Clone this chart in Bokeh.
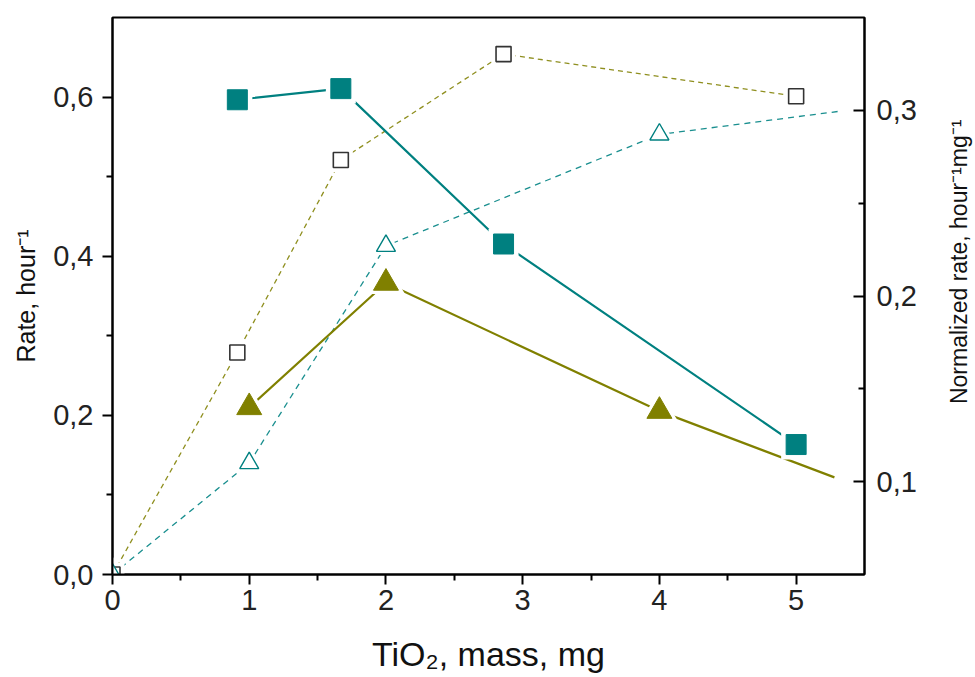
import math
from bokeh.plotting import figure
from bokeh.layouts import row
from bokeh.models import Range1d, LinearAxis, FixedTicker, CustomJSTickFormatter, Label
from bokeh.embed import file_html
from bokeh.resources import INLINE

# ---- data ----
# Rate, hour^-1 (left axis), open symbols, dashed lines
open_sq_mass = [0.0, 0.913, 1.67, 2.86, 5.0]
open_sq_rate = [0.0, 0.279, 0.521, 0.654, 0.601]
open_tri_mass = [0.0, 1.0, 2.0, 4.0]
open_tri_rate = [0.0, 0.14, 0.413, 0.553]
open_tri_tail_mass = [5.31]
open_tri_tail_rate = [0.582]
# Normalized rate, hour^-1 mg^-1 (right axis), filled symbols, solid lines
filled_sq_mass = [0.913, 1.67, 2.86, 5.0]
filled_sq_norm = [0.3057, 0.3117, 0.228, 0.12]
filled_tri_mass = [1.0, 2.0, 4.0]
filled_tri_norm = [0.14, 0.207, 0.138]
filled_tri_tail_mass = [5.28]
filled_tri_tail_norm = [0.1023]

x_ticks = [0, 1, 2, 3, 4, 5]
x_minor = [0.5, 1.5, 2.5, 3.5, 4.5]
left_ticks = [0.0, 0.2, 0.4, 0.6]
left_minor = [0.1, 0.3, 0.5]
right_ticks = [0.1, 0.2, 0.3]
right_minor = [0.15, 0.25]

x_title = "TiO₂, mass, mg"
left_title = "Rate, hour⁻¹"
right_title = "Normalized rate, hour⁻¹mg⁻¹"

TEAL = "#008080"
OLIVE = "#808000"
FONT = "Liberation Sans"

p = figure(width=935, height=677, x_range=Range1d(0, 5.5), y_range=Range1d(0, 0.7),
           output_backend="svg", toolbar_location=None,
           min_border_left=112, min_border_right=71, min_border_top=17, min_border_bottom=103)
p.extra_y_ranges = {"norm": Range1d(0.05, 0.35)}
p.xgrid.visible = False
p.ygrid.visible = False
p.outline_line_color = "black"
p.outline_line_width = 2
p.outline_line_alpha = 1.0
p.background_fill_color = "white"
p.border_fill_color = "white"

right_axis = LinearAxis(y_range_name="norm")
p.add_layout(right_axis, "right")

fmt = CustomJSTickFormatter(code="return tick.toFixed(1).replace('.', ',');")

def style(ax):
    ax.axis_line_color = "black"
    ax.axis_line_width = 2
    ax.major_tick_line_color = "black"
    ax.major_tick_line_width = 2
    ax.minor_tick_line_color = "black"
    ax.minor_tick_line_width = 2
    ax.major_label_text_font = FONT
    ax.major_label_text_font_size = "29px"
    ax.major_label_text_color = "#222222"
    ax.axis_label_text_font = FONT
    ax.axis_label_text_font_style = "normal"
    ax.axis_label_text_color = "#111111"

xa = p.xaxis[0]
style(xa)
xa.ticker = FixedTicker(ticks=x_ticks, minor_ticks=x_minor)
xa.major_tick_out = 10
xa.major_tick_in = 0
xa.minor_tick_out = 6
xa.minor_tick_in = 0
xa.major_label_standoff = 5
xa.axis_label = x_title
xa.axis_label_text_font_size = "34px"
xa.axis_label_standoff = 22

ya = p.yaxis[0]
style(ya)
ya.ticker = FixedTicker(ticks=left_ticks, minor_ticks=left_minor)
ya.formatter = fmt
ya.major_tick_out = 10
ya.major_tick_in = 0
ya.minor_tick_out = 6
ya.minor_tick_in = 0
ya.major_label_standoff = 9
ya.axis_label = left_title
ya.axis_label_text_font_size = "25px"
ya.axis_label_standoff = 10

style(right_axis)
right_axis.ticker = FixedTicker(ticks=right_ticks, minor_ticks=right_minor)
right_axis.formatter = fmt
right_axis.major_tick_out = 0
right_axis.major_tick_in = 11
right_axis.minor_tick_out = 0
right_axis.minor_tick_in = 6
right_axis.major_label_standoff = 12

# ---- lines ----
p.line(open_sq_mass, open_sq_rate, line_color="#8f8f1f", line_width=1.3, line_dash="5 4")
p.line(open_tri_mass + open_tri_tail_mass, open_tri_rate + open_tri_tail_rate,
       line_color="#1a8f8f", line_width=1.3, line_dash="6 5")
p.line(filled_sq_mass, filled_sq_norm, line_color=TEAL, line_width=2.2, y_range_name="norm")
p.line(filled_tri_mass + filled_tri_tail_mass, filled_tri_norm + filled_tri_tail_norm,
       line_color=OLIVE, line_width=2.2, y_range_name="norm")

# ---- white halos (gaps around markers) ----
p.scatter(open_sq_mass, open_sq_rate, marker="square", size=24, fill_color="white", line_color=None)
p.scatter(open_tri_mass, open_tri_rate, marker="triangle", size=32, fill_color="white", line_color=None)
p.scatter(filled_sq_mass, filled_sq_norm, marker="square", size=30, fill_color="white", line_color=None,
          y_range_name="norm")
p.scatter(filled_tri_mass, filled_tri_norm, marker="triangle", size=38, fill_color="white", line_color=None,
          y_range_name="norm")

# ---- markers ----
p.scatter(open_sq_mass, open_sq_rate, marker="square", size=15, fill_color="white",
          line_color="#333333", line_width=1.6)
p.scatter(open_tri_mass, open_tri_rate, marker="triangle", size=19, fill_color="white",
          line_color=TEAL, line_width=1.4)
p.scatter(filled_sq_mass, filled_sq_norm, marker="square", size=20, fill_color=TEAL,
          line_color=TEAL, line_width=1, y_range_name="norm")
p.scatter(filled_tri_mass, filled_tri_norm, marker="triangle", size=25, fill_color=OLIVE,
          line_color=OLIVE, line_width=1, y_range_name="norm")

# ---- right-hand title strip (title reads bottom-to-top, as in the reference) ----
t = figure(width=40, height=677, x_range=Range1d(0, 40), y_range=Range1d(0, 677),
           output_backend="svg", toolbar_location=None, min_border=0,
           x_axis_location=None, y_axis_location=None)
t.grid.visible = False
t.outline_line_color = None
t.background_fill_color = "white"
t.border_fill_color = "white"
t.add_layout(Label(x=23, y=380, text=right_title, angle=math.pi / 2,
                   text_align="center", text_baseline="middle",
                   text_font=FONT, text_font_size="23px", text_color="#111111"))

layout = row(p, t, spacing=0)
open("out.html", "w").write(file_html(layout, INLINE))
